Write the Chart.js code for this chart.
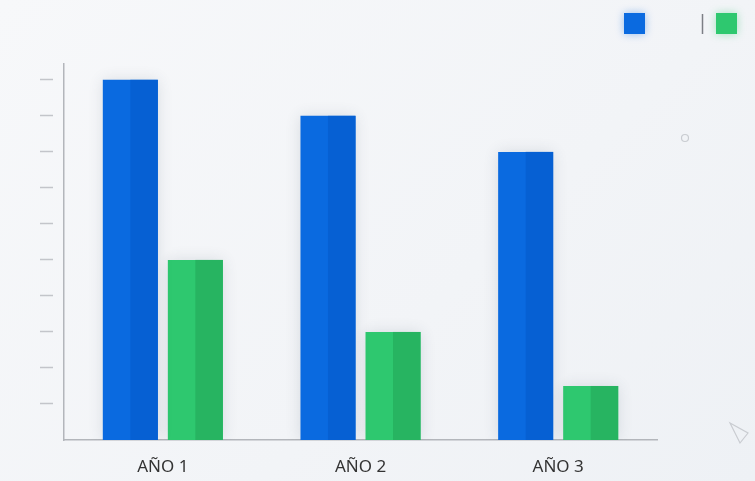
<!DOCTYPE html>
<html>
<head>
<meta charset="utf-8">
<script src="https://cdn.jsdelivr.net/npm/chart.js@4"></script>
<style>
  html, body { margin: 0; padding: 0; }
  body { width: 755px; height: 481px; overflow: hidden;
         background: linear-gradient(135deg, #f7f8fa 0%, #f2f4f7 60%, #eef1f5 100%); }
  canvas { display: block; }
</style>
</head>
<body>
<canvas id="bars" width="755" height="481"></canvas>
<script>
// Data
const categories = ['AÑO 1', 'AÑO 2', 'AÑO 3'];
const blueValues = [10, 9, 8];
const greenValues = [5, 3, 1.5];
const tickValues = [1, 2, 3, 4, 5, 6, 7, 8, 9, 10];

const blueLight = '#0a6ae0', blueDark = '#0660d3';
const greenLight = '#2ec86f', greenDark = '#27b461';

// soft shadow under bars, then darker right half on each bar
const twoTone = {
  id: 'twoTone',
  beforeDatasetsDraw(chart) {
    const ctx = chart.ctx;
    ctx.save();
    ctx.shadowColor = 'rgba(60, 70, 90, 0.14)';
    ctx.shadowBlur = 14;
  },
  afterDatasetsDraw(chart) {
    const ctx = chart.ctx;
    ctx.restore();
    chart.data.datasets.forEach((ds, i) => {
      chart.getDatasetMeta(i).data.forEach(bar => {
        const p = bar.getProps(['x', 'y', 'base', 'width'], true);
        ctx.fillStyle = ds.darkColor;
        ctx.fillRect(p.x, p.y, p.width / 2, p.base - p.y);
      });
    });
  }
};

// little legend squares top right + decorations
const squares = {
  id: 'squares',
  afterDraw(chart) {
    const ctx = chart.ctx;
    const xs = [624, 716];
    ctx.save();
    chart.data.datasets.forEach((ds, i) => {
      ctx.shadowColor = ds.backgroundColor + '66';
      ctx.shadowBlur = 8;
      ctx.fillStyle = ds.backgroundColor;
      ctx.fillRect(xs[i], 13, 21, 21);
    });
    ctx.shadowBlur = 0;
    ctx.strokeStyle = '#7c7f85';
    ctx.lineWidth = 1.5;
    ctx.beginPath();
    ctx.moveTo(702.5, 14);
    ctx.lineTo(702.5, 34);
    ctx.stroke();

    ctx.strokeStyle = '#c9ccd1';
    ctx.lineWidth = 1.2;
    ctx.beginPath();
    ctx.arc(685, 138, 3.5, 0, Math.PI * 2);
    ctx.stroke();
    ctx.beginPath();
    ctx.moveTo(730, 423);
    ctx.lineTo(748, 433);
    ctx.lineTo(740, 443);
    ctx.closePath();
    ctx.stroke();
    ctx.restore();
  }
};

new Chart(document.getElementById('bars'), {
  type: 'bar',
  data: {
    labels: categories,
    datasets: [{
      label: 'Azul',
      data: blueValues,
      backgroundColor: blueLight,
      darkColor: blueDark
    }, {
      label: 'Verde',
      data: greenValues,
      backgroundColor: greenLight,
      darkColor: greenDark
    }]
  },
  options: {
    responsive: false,
    animation: false,
    categoryPercentage: 0.658,
    barPercentage: 0.846,
    layout: { padding: { left: 40, right: 98, top: 64, bottom: 5 } },
    plugins: {
      legend: { display: false },
      tooltip: { enabled: false }
    },
    scales: {
      x: {
        afterFit(scale) { scale.height = 36; },
        grid: { display: false, drawTicks: false },
        border: { display: true, color: '#b3b6bb', width: 1.5 },
        ticks: {
          padding: 17,
          color: '#333333',
          font: { family: 'Noto Sans', size: 17 }
        }
      },
      y: {
        min: 0,
        max: 10.44,
        afterBuildTicks(scale) {
          scale.ticks = tickValues.map(v => ({ value: v }));
        },
        ticks: { display: false, stepSize: 1 },
        grid: {
          drawOnChartArea: false,
          drawTicks: true,
          tickLength: 24,
          tickBorderDash: [13, 11],
          tickColor: '#c3c5ca',
          tickWidth: 1.5
        },
        border: { display: true, color: '#b3b6bb', width: 1.5 }
      }
    }
  },
  plugins: [twoTone, squares]
});
</script>
</body>
</html>
